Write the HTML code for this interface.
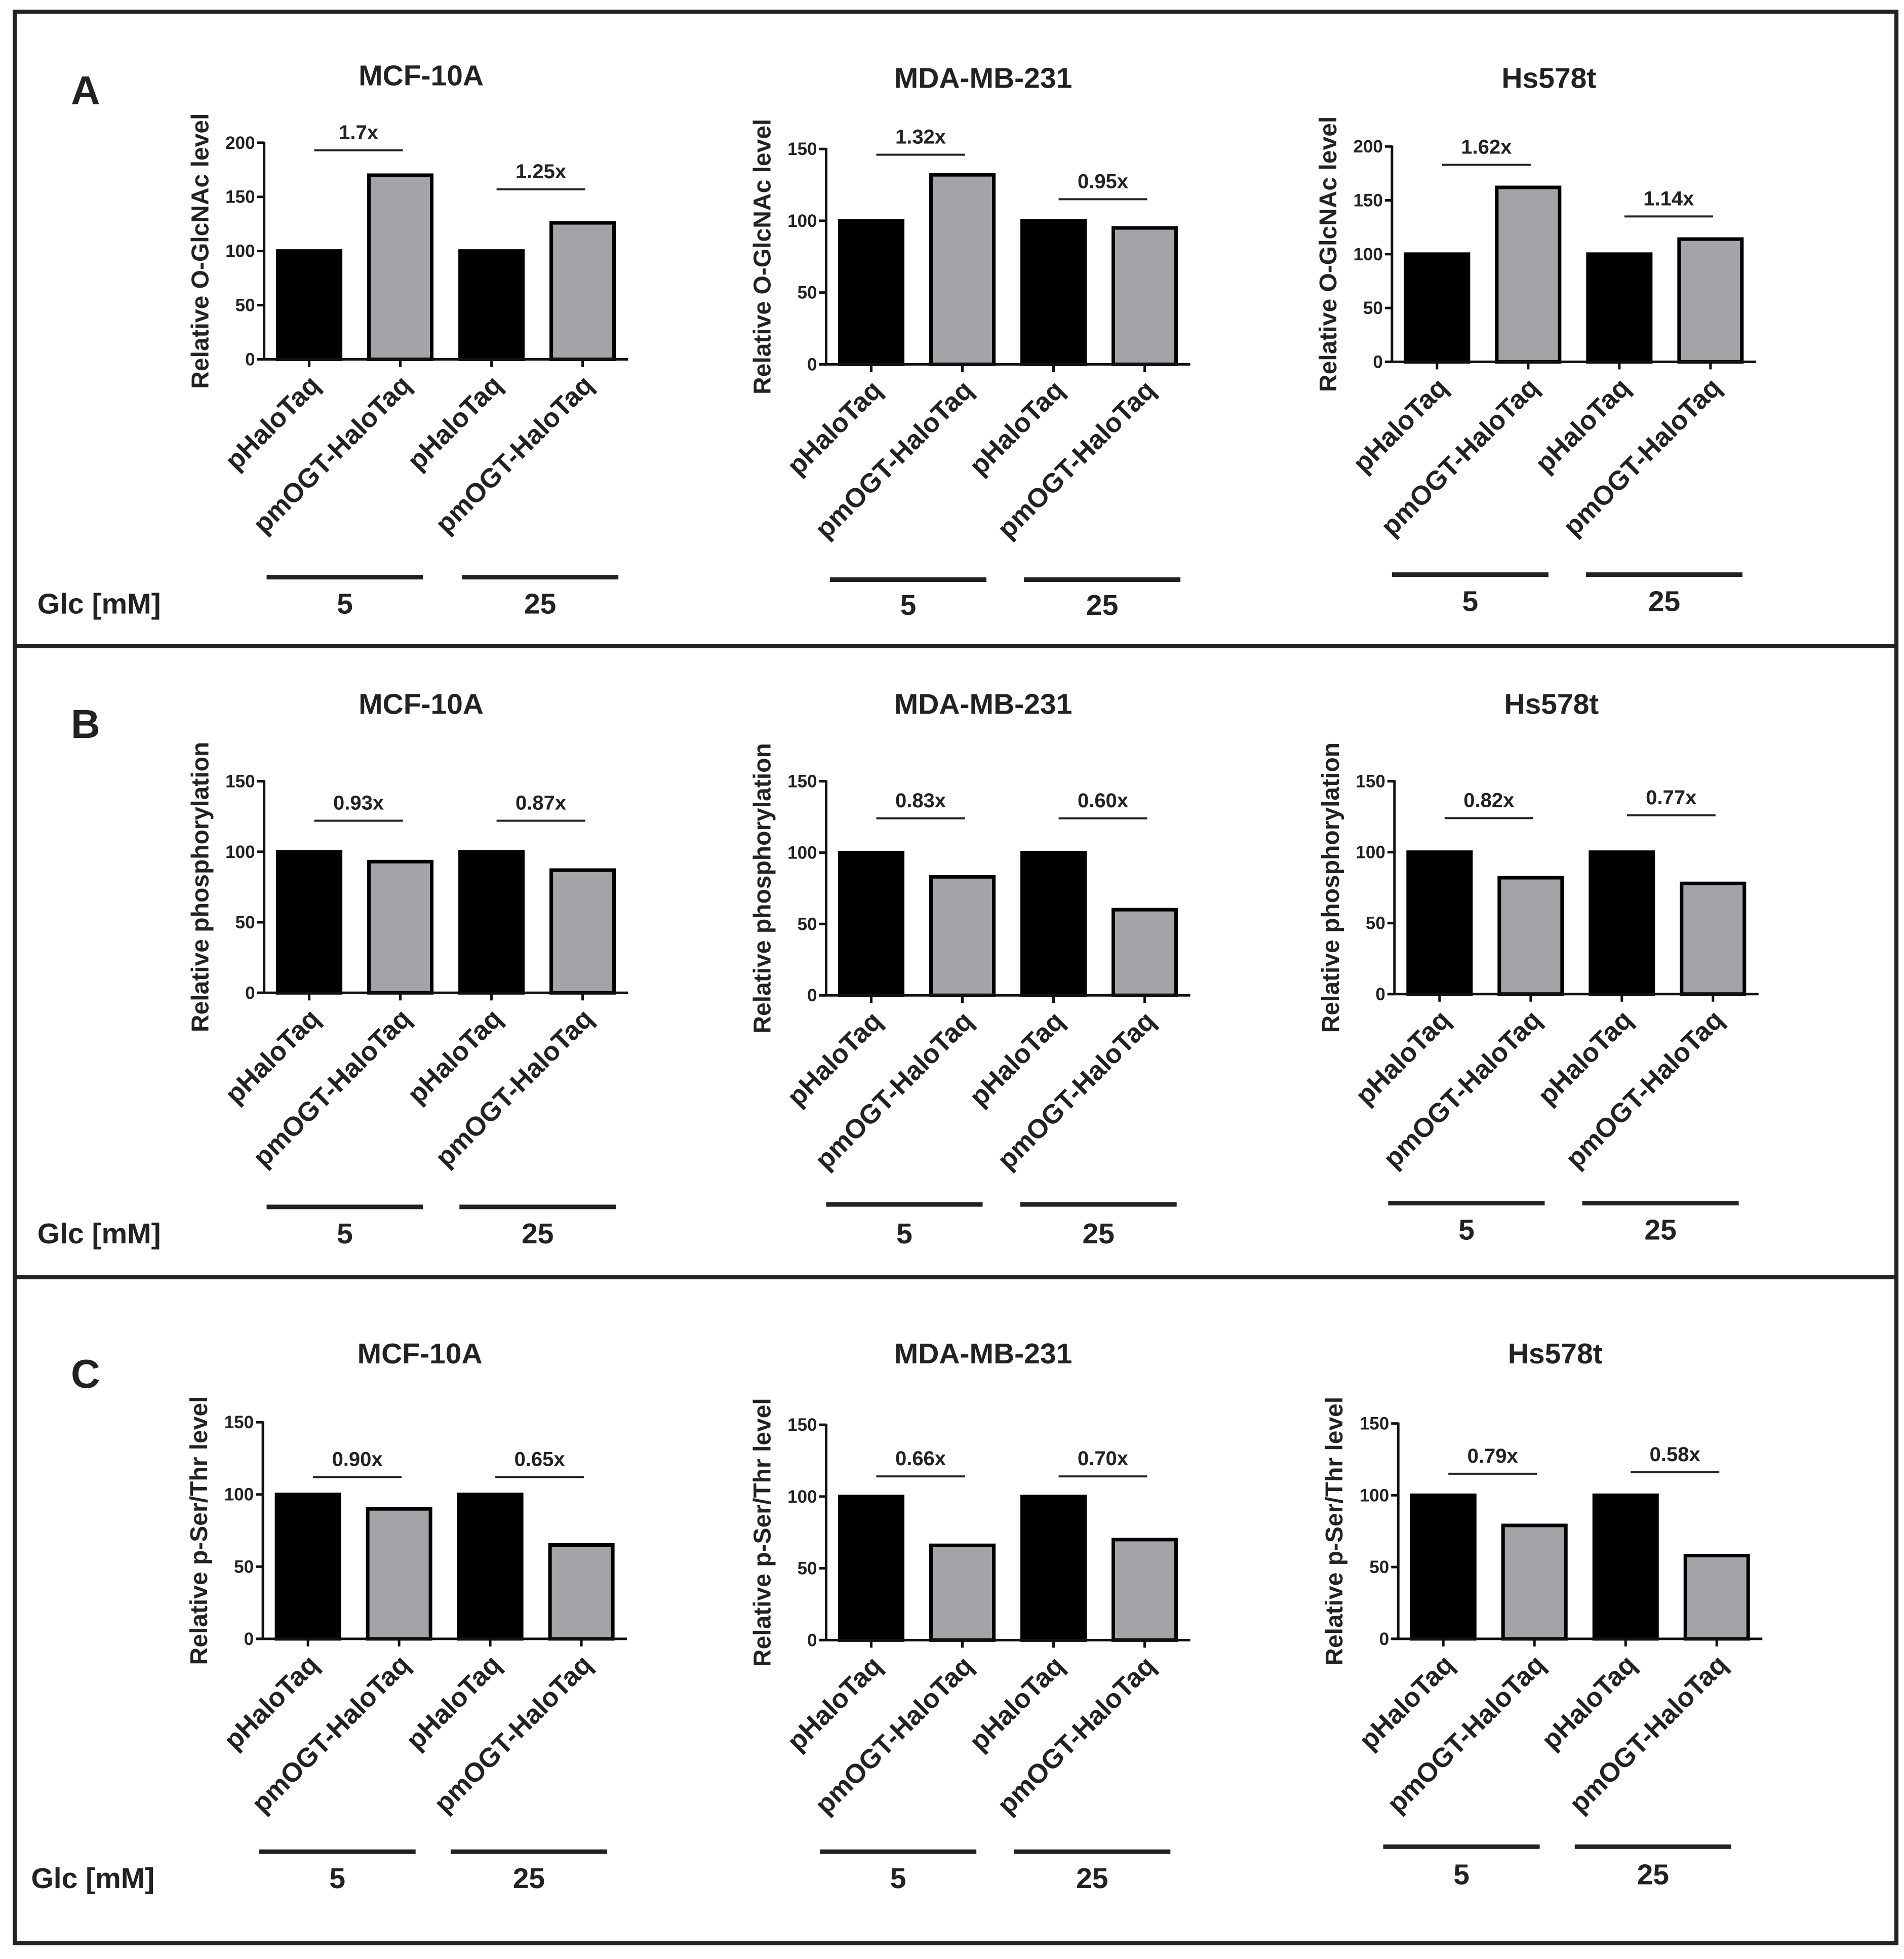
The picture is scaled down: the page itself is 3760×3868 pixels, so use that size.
<!DOCTYPE html>
<html><head><meta charset="utf-8">
<style>
html,body{margin:0;padding:0;background:#fff;}
svg{display:block;}
text{font-family:"Liberation Sans",Arial,sans-serif;font-weight:bold;fill:#222;}
</style></head>
<body>
<svg id="fig" width="3760" height="3868" viewBox="0 0 3760 3868" xmlns="http://www.w3.org/2000/svg">
<rect x="29" y="23" width="3716" height="3814" fill="none" stroke="#222" stroke-width="8"/>
<line x1="29" y1="1276" x2="3745" y2="1276" stroke="#222" stroke-width="8"/>
<line x1="29" y1="2522" x2="3745" y2="2522" stroke="#222" stroke-width="8"/>
</svg>
<script>
// ---- data ----
const categories = ["pHaloTaq","pmOGT-HaloTaq","pHaloTaq","pmOGT-HaloTaq"];
const cellLines = ["MCF-10A","MDA-MB-231","Hs578t"];
const panelLetters = ["A","B","C"];
const yTitles = ["Relative O-GlcNAc level","Relative phosphorylation","Relative p-Ser/Thr level"];
const glcLabels = ["5","25"];
const valuesA1 = [100,170,100,126];
const valuesA2 = [100,132,100,95];
const valuesA3 = [100,162,100,114];
const valuesB1 = [100,93,100,87];
const valuesB2 = [100,83,100,60];
const valuesB3 = [100,82,100,78];
const valuesC1 = [100,90,100,65];
const valuesC2 = [100,66,100,70];
const valuesC3 = [100,79,100,58];
const foldA1 = ["1.7x","1.25x"];
const foldA2 = ["1.32x","0.95x"];
const foldA3 = ["1.62x","1.14x"];
const foldB1 = ["0.93x","0.87x"];
const foldB2 = ["0.83x","0.60x"];
const foldB3 = ["0.82x","0.77x"];
const foldC1 = ["0.90x","0.65x"];
const foldC2 = ["0.66x","0.70x"];
const foldC3 = ["0.79x","0.58x"];
const ticksA1 = [0,50,100,150,200];
const ticksA2 = [0,50,100,150];
const ticksA3 = [0,50,100,150,200];
const ticks150 = [0,50,100,150];
// annotation bracket heights (data units)
const annA1 = [193,157];
const annA2 = [146,115];
const annA3 = [183,135];
const annB1 = [122,122];
const annB2 = [124,124];
const annB3 = [124,126];
const annC1 = [112,112];
const annC2 = [114,114];
const annC3 = [115,116];

const S = 2.472;
const NS = "http://www.w3.org/2000/svg";
const svg = document.getElementById('fig');
function el(tag, attrs, parent){
  const e = document.createElementNS(NS, tag);
  for (const k in attrs) e.setAttribute(k, attrs[k]);
  (parent||svg).appendChild(e);
  return e;
}

const charts = [
  {p:0,c:0,ax:211,y0:287,yt:114,max:200,v:valuesA1,f:foldA1,t:ticksA1,a:annA1,ty:60,gy:461,gl:[213,369],ny:482},
  {p:0,c:1,ax:660,y0:291,yt:119,max:150,v:valuesA2,f:foldA2,t:ticksA2,a:annA2,ty:62,gy:463,gl:[663,818],ny:483},
  {p:0,c:2,ax:1112,y0:289,yt:117,max:200,v:valuesA3,f:foldA3,t:ticksA3,a:annA3,ty:62,gy:459,gl:[1112,1267],ny:480},
  {p:1,c:0,ax:211,y0:793,yt:624,max:150,v:valuesB1,f:foldB1,t:ticks150,a:annB1,ty:562,gy:964,gl:[213,367],ny:985},
  {p:1,c:1,ax:660,y0:795,yt:624,max:150,v:valuesB2,f:foldB2,t:ticks150,a:annB2,ty:562,gy:962,gl:[660,815],ny:985},
  {p:1,c:2,ax:1114,y0:794,yt:624,max:150,v:valuesB3,f:foldB3,t:ticks150,a:annB3,ty:562,gy:961,gl:[1109,1264],ny:982},
  {p:2,c:0,ax:210,y0:1309,yt:1136,max:150,v:valuesC1,f:foldC1,t:ticks150,a:annC1,ty:1081,gy:1479,gl:[207,360],ny:1500},
  {p:2,c:1,ax:660,y0:1310,yt:1138,max:150,v:valuesC2,f:foldC2,t:ticks150,a:annC2,ty:1081,gy:1479,gl:[655,810],ny:1500},
  {p:2,c:2,ax:1117,y0:1309,yt:1137,max:150,v:valuesC3,f:foldC3,t:ticks150,a:annC3,ty:1081,gy:1475,gl:[1105,1258],ny:1497}
];
const letterY = [72,578,1097];
const glcY = [482,985,1500];

panelLetters.forEach((L,i)=>{
  const t = el('text',{x:140,y:letterY[i]*S+28,'font-size':80});
  
  
  t.textContent = L;
  const g = el('text',{x:(i==2?20:25)*S+12,y:glcY[i]*S+20,'font-size':57});
  
  
  g.textContent = 'Glc [mM]';
});

charts.forEach(ch=>{
  const g = el('g',{});
  
  
  const ax = ch.ax*S, y0 = ch.y0*S, yt = ch.yt*S;
  const yScale = v => y0 - (v/ch.max)*(y0-yt);
  const xCenter = i => ax + 89 + i*180;
  const bw = 124;
  const axEnd = xCenter(3) + bw/2 + 28;
  const title = el('text',{x:ax+310,y:ch.ty*S+20,'font-size':57,'text-anchor':'middle'},g);
  
  
  title.textContent = cellLines[ch.c];
  const ym = (y0+yt)/2;
  const yl = el('text',{x:ax-110,y:ym,'font-size':48,'text-anchor':'middle',transform:`rotate(-90 ${ax-110} ${ym})`},g);
  
  
  yl.textContent = yTitles[ch.p];
  ch.v.forEach((v,i)=>{
    const x = xCenter(i)-bw/2, y = yScale(v);
    const r = el('rect',{x:x,y:y,width:bw,height:y0-y,fill:i%2? '#a4a3a7':'#000',stroke:'#000','stroke-width':7},g);
    
    
  });
  const yaxis = el('line',{x1:ax,y1:yt-2,x2:ax,y2:y0,stroke:'#111','stroke-width':5},g);
  
  
  const xaxis = el('line',{x1:ax-14,y1:y0,x2:axEnd,y2:y0,stroke:'#111','stroke-width':5},g);
  
  
  ch.t.forEach(tv=>{
    const ty = yScale(tv);
    const tk = el('line',{x1:ax-14,y1:ty,x2:ax,y2:ty,stroke:'#111','stroke-width':5},g);
    
    
    const tl = el('text',{x:ax-18,y:ty+12,'font-size':35,'text-anchor':'end'},g);
    
    
    tl.textContent = tv;
  });
  categories.forEach((c,i)=>{
    const cx = xCenter(i);
    const tk = el('line',{x1:cx,y1:y0,x2:cx,y2:y0+15,stroke:'#111','stroke-width':5},g);
    
    
    const lx = cx+24, ly = y0+54;
    const tl = el('text',{x:lx,y:ly,'font-size':53,'text-anchor':'end',transform:`rotate(-45 ${lx} ${ly})`},g);
    
    
    tl.textContent = c;
  });
  ch.f.forEach((f,j)=>{
    const y = yScale(ch.a[j]);
    const x1 = xCenter(2*j)+10, x2 = xCenter(2*j+1)+5;
    const ln = el('line',{x1:x1,y1:y,x2:x2,y2:y,stroke:'#222','stroke-width':4},g);
    
    
    const tx = el('text',{x:(x1+x2)/2,y:y-22,'font-size':40,'text-anchor':'middle'},g);
    
    
    tx.textContent = f;
  });
  ch.gl.forEach((gx,j)=>{
    const x1 = gx*S, x2 = x1+125*S;
    const ln = el('line',{x1:x1,y1:ch.gy*S,x2:x2,y2:ch.gy*S,stroke:'#222','stroke-width':9},g);
    
    
    const tx = el('text',{x:(x1+x2)/2,y:ch.ny*S+20,'font-size':57,'text-anchor':'middle'},g);
    
    
    tx.textContent = glcLabels[j];
  });
});
</script>
</body></html>
